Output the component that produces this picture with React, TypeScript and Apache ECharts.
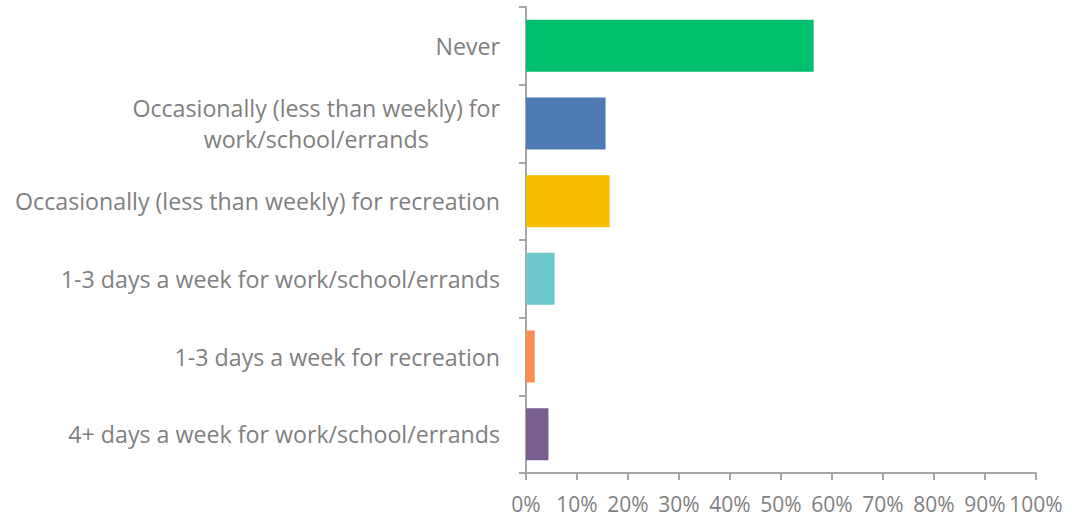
import React, { useEffect, useRef } from "react";
import * as echarts from "echarts";

const categories = [
  "Never",
  "Occasionally (less than weekly) for\nwork/school/errands",
  "Occasionally (less than weekly) for recreation",
  "1-3 days a week for work/school/errands",
  "1-3 days a week for recreation",
  "4+ days a week for work/school/errands",
];
const values = [56.4, 15.6, 16.4, 5.6, 1.7, 4.4];
const colors = ["#00BF6F", "#4E7AB5", "#F8BE00", "#6CC8CC", "#FF8C4F", "#7B5E90"];
const xTicks = [0, 10, 20, 30, 40, 50, 60, 70, 80, 90, 100];

const FONT = "Open Sans";
const FS_Y = 23.2;
const FS_X = 21;
const GREY = "#7f7f7f";
const AXIS = "#a6a6a6";

export default function App() {
  const ref = useRef<HTMLDivElement>(null);
  useEffect(() => {
    if (!ref.current) return;
    document.body.style.margin = "0";
    const chart = echarts.init(ref.current, undefined, { renderer: "svg" });
    const cats = [...categories].reverse();
    const vals = [...values].reverse();
    const cols = [...colors].reverse();
    chart.setOption({
      animation: false,
      grid: { left: 526, top: 7, right: 36, bottom: 46, containLabel: false },
      xAxis: {
        type: "value",
        min: xTicks[0],
        max: xTicks[xTicks.length - 1],
        interval: 10,
        splitLine: { show: false },
        axisLine: { show: true, lineStyle: { color: AXIS, width: 2 } },
        axisTick: { show: true, length: 7, lineStyle: { color: AXIS, width: 2 } },
        axisLabel: {
          formatter: (v: number) => `${v}%`,
          color: GREY,
          fontFamily: FONT,
          fontSize: FS_X,
          lineHeight: 20,
          margin: 21,
        },
      },
      yAxis: {
        type: "category",
        data: cats,
        axisLine: { show: true, lineStyle: { color: AXIS, width: 2 } },
        axisTick: { show: true, length: 7, lineStyle: { color: AXIS, width: 2 } },
        axisLabel: {
          color: GREY,
          fontFamily: FONT,
          fontSize: FS_Y,
          margin: 26,
          lineHeight: 31,
          formatter: (v: string) =>
            v
              .split("\n")
              .map((l) => `{c|${l}}`)
              .join("\n"),
          rich: {
            c: { align: "center", color: GREY, fontFamily: FONT, fontSize: FS_Y, lineHeight: 31 },
          },
        },
      },
      series: [
        {
          type: "bar",
          data: vals.map((v, i) => ({ value: v, itemStyle: { color: cols[i] } })),
          barCategoryGap: "33%",
        },
      ],
    });
    return () => chart.dispose();
  }, []);
  return <div ref={ref} style={{ width: 1072, height: 519 }} />;
}
